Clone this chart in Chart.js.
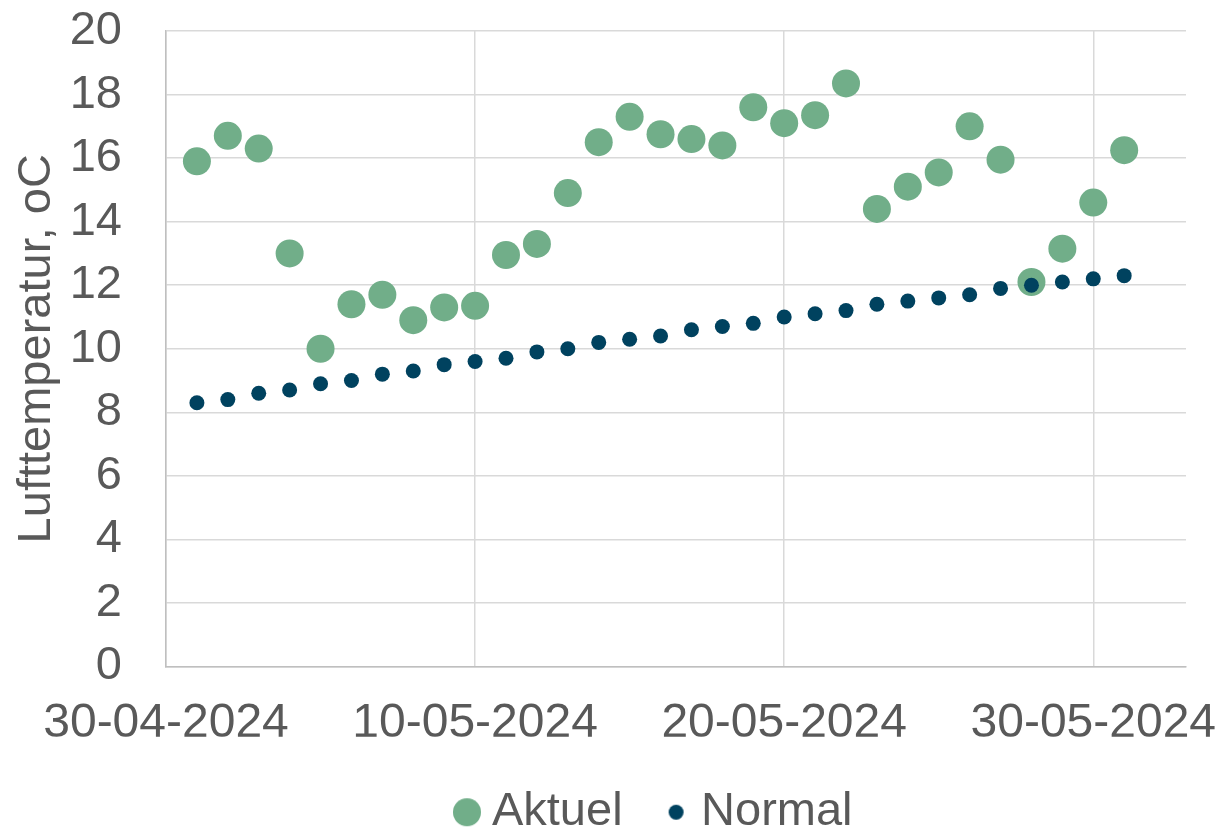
<!DOCTYPE html>
<html>
<head>
<meta charset="utf-8">
<script src="https://cdn.jsdelivr.net/npm/chart.js@4.4.1/dist/chart.umd.min.js"></script>
<style>
  html, body { margin: 0; padding: 0; background: #fff; }
  #wrap { width: 1222px; height: 831px; }
</style>
</head>
<body>
<div id="wrap"><canvas id="chart" width="1222" height="831"></canvas></div>
<script>
// days of May 2024
const dates = [
  '01-05-2024', '02-05-2024', '03-05-2024', '04-05-2024', '05-05-2024', '06-05-2024',
  '07-05-2024', '08-05-2024', '09-05-2024', '10-05-2024', '11-05-2024', '12-05-2024',
  '13-05-2024', '14-05-2024', '15-05-2024', '16-05-2024', '17-05-2024', '18-05-2024',
  '19-05-2024', '20-05-2024', '21-05-2024', '22-05-2024', '23-05-2024', '24-05-2024',
  '25-05-2024', '26-05-2024', '27-05-2024', '28-05-2024', '29-05-2024', '30-05-2024',
  '31-05-2024'
];
const aktuel = [
  15.9, 16.7, 16.3, 13.0, 10.0, 11.4, 11.7, 10.9, 11.3, 11.35, 12.95, 13.3,
  14.9, 16.5, 17.3, 16.75, 16.6, 16.4, 17.6, 17.1, 17.35, 18.35, 14.4, 15.1,
  15.55, 17.0, 15.95, 12.1, 13.15, 14.6, 16.25
];
const normal = [
  8.3, 8.4, 8.6, 8.7, 8.9, 9.0, 9.2, 9.3, 9.5, 9.6, 9.7, 9.9,
  10.0, 10.2, 10.3, 10.4, 10.6, 10.7, 10.8, 11.0, 11.1, 11.2, 11.4, 11.5,
  11.6, 11.7, 11.9, 12.0, 12.1, 12.2, 12.3
];
const xTickLabels = ['30-04-2024', '10-05-2024', '20-05-2024', '30-05-2024'];
const xFirst = '30-04-2024';
const xLast = '02-06-2024';

const textColor = '#595959';
const green = '#71ae89';
const navy = '#00425f';

const DAY = 864e5;
const base = toUTC(xFirst);

function toUTC(s) {
  const [d, m, y] = s.split('-').map(Number);
  return Date.UTC(y, m - 1, d);
}
function dayOf(s) {
  return Math.round((toUTC(s) - base) / DAY);
}
function fmt(v) {
  const d = new Date(base + v * DAY);
  const p = n => String(n).padStart(2, '0');
  return p(d.getUTCDate()) + '-' + p(d.getUTCMonth() + 1) + '-' + d.getUTCFullYear();
}

// legend marker with its own size
function legendDot(r, color) {
  const c = document.createElement('canvas');
  c.width = c.height = Math.ceil(2 * r + 2);
  const g = c.getContext('2d');
  g.fillStyle = color;
  g.beginPath();
  g.arc(c.width / 2, c.height / 2, r, 0, Math.PI * 2);
  g.fill();
  return c;
}

Chart.defaults.font.family = "'Liberation Sans', Arial, sans-serif";
Chart.defaults.color = textColor;

const legendOffset = {
  id: 'legendOffset',
  afterLayout(chart) {
    chart.legend.left += 66;
    chart.legend.right += 66;
  }
};

new Chart(document.getElementById('chart'), {
  type: 'scatter',
  data: {
    datasets: [
      {
        label: 'Aktuel',
        data: dates.map((d, i) => ({ x: dayOf(d), y: aktuel[i] })),
        backgroundColor: green,
        borderWidth: 0,
        pointRadius: 14,
        pointHoverRadius: 14,
        order: 1
      },
      {
        label: 'Normal',
        data: dates.map((d, i) => ({ x: dayOf(d), y: normal[i] })),
        backgroundColor: navy,
        borderWidth: 0,
        pointRadius: 7.5,
        pointHoverRadius: 7.5,
        order: 0
      }
    ]
  },
  options: {
    responsive: false,
    animation: false,
    layout: { padding: { top: 31, right: 36, bottom: -14.7, left: 0 } },
    plugins: {
      tooltip: { enabled: false },
      legend: {
        position: 'bottom',
        labels: {
          usePointStyle: true,
          boxWidth: 3,
          boxHeight: 3,
          padding: 52,
          color: textColor,
          font: { size: 47 },
          generateLabels: (chart) => chart.data.datasets.map((ds, i) => ({
            text: ds.label,
            pointStyle: legendDot(ds.pointRadius, ds.backgroundColor),
            fillStyle: ds.backgroundColor,
            strokeStyle: ds.backgroundColor,
            lineWidth: 0,
            hidden: false,
            datasetIndex: i,
            fontColor: textColor
          }))
        }
      }
    },
    scales: {
      x: {
        type: 'linear',
        min: dayOf(xFirst),
        max: dayOf(xLast),
        afterBuildTicks: (scale) => {
          scale.ticks = xTickLabels.map(s => ({ value: dayOf(s) }));
        },
        afterFit: (scale) => { scale.height = 70.2; },
        grid: {
          color: '#d9d9d9',
          lineWidth: 1.5,
          drawTicks: true,
          tickLength: 28,
          tickColor: 'rgba(0,0,0,0)'
        },
        border: { color: '#bfbfbf', width: 1.5 },
        ticks: {
          padding: 0,
          maxRotation: 0,
          autoSkip: false,
          color: textColor,
          font: { size: 48 },
          callback: (v) => fmt(v)
        }
      },
      y: {
        min: 0,
        max: 20,
        afterFit: (scale) => { scale.width = 166; },
        grid: {
          color: '#d9d9d9',
          lineWidth: 1.5,
          drawTicks: true,
          tickLength: 44,
          tickColor: 'rgba(0,0,0,0)'
        },
        border: { color: '#bfbfbf', width: 1.5 },
        ticks: {
          stepSize: 2,
          padding: 0,
          color: textColor,
          font: { size: 47 }
        },
        title: {
          display: true,
          text: 'Lufttemperatur, oC',
          color: textColor,
          font: { size: 47 },
          padding: { top: 8.5, bottom: 0 }
        }
      }
    }
  },
  plugins: [legendOffset]
});
</script>
</body>
</html>
